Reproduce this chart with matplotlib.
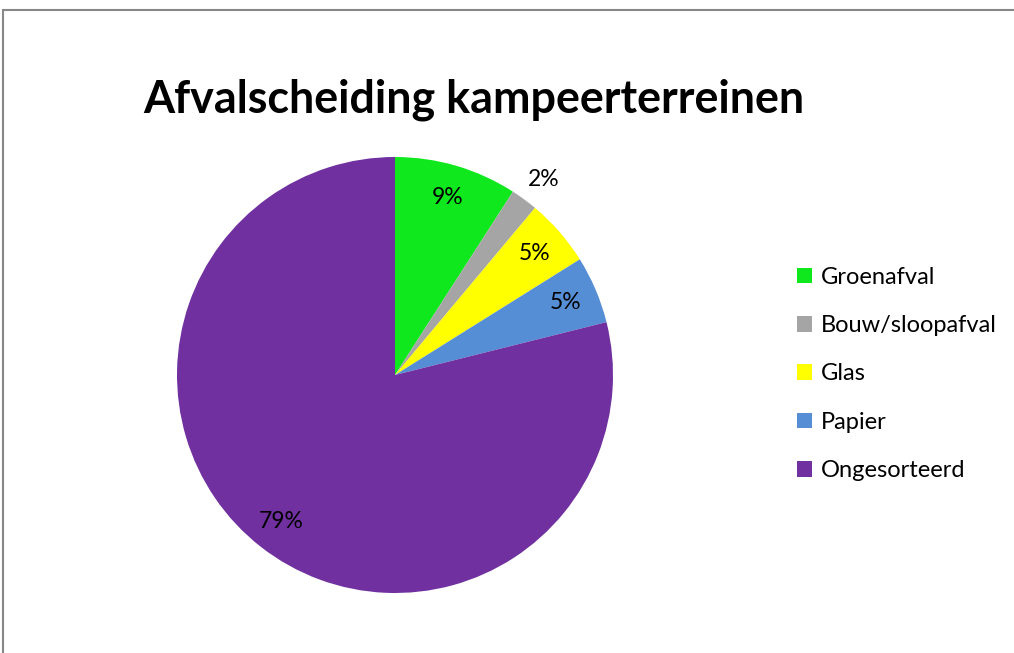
import matplotlib
matplotlib.use('Agg')
import matplotlib.pyplot as plt
from matplotlib.patches import Rectangle

### data
categories = ['Groenafval', 'Bouw/sloopafval', 'Glas', 'Papier', 'Ongesorteerd']
values = [9.1, 2.0, 5.0, 5.0, 78.9]
colors = ['#10e81e', '#a5a5a5', '#ffff00', '#558ed5', '#7030a0']

W, H = 1014, 653
fig = plt.figure(figsize=(W / 100, H / 100), dpi=100)
plt.rcParams['font.family'] = ['Lato', 'DejaVu Sans']

# outer chart border (Excel style)
fig.patches.append(Rectangle((3 / W, -0.1), 1.2, (H - 10) / H + 0.1,
                             transform=fig.transFigure, fill=False,
                             edgecolor='#878787', linewidth=1.5))

# pie axes, centre (395,375) radius 218 px
cx, cy, r = 395, 375, 218
s = r * 1.25
ax = fig.add_axes([(cx - s) / W, (H - cy - s) / H, 2 * s / W, 2 * s / H])
wedges, texts, autotexts = ax.pie(values, colors=colors, startangle=90,
                                  counterclock=False,
                                  autopct=lambda p: '{:.0f}%'.format(p),
                                  pctdistance=0.85,
                                  textprops={'fontsize': 16.5, 'color': 'black'})
ax.set_xlim(-1.25, 1.25)
ax.set_ylim(-1.25, 1.25)
ax.set_aspect('equal')
ax.axis('off')
# small slice label sits outside the pie
autotexts[1].set_position((0.68, 0.895))

fig.text(474 / W, 1 - 100 / H, 'Afvalscheiding kampeerterreinen',
         fontsize=32.3, fontweight='bold', ha='center', va='center')

fig.legend(wedges, categories, loc='center left',
           bbox_to_anchor=(776 / W, 1 - 374 / H), frameon=False,
           fontsize=17, handlelength=0.64, handleheight=0.64,
           handletextpad=0.34, labelspacing=1.16)

fig.savefig('out.png', dpi=100)
